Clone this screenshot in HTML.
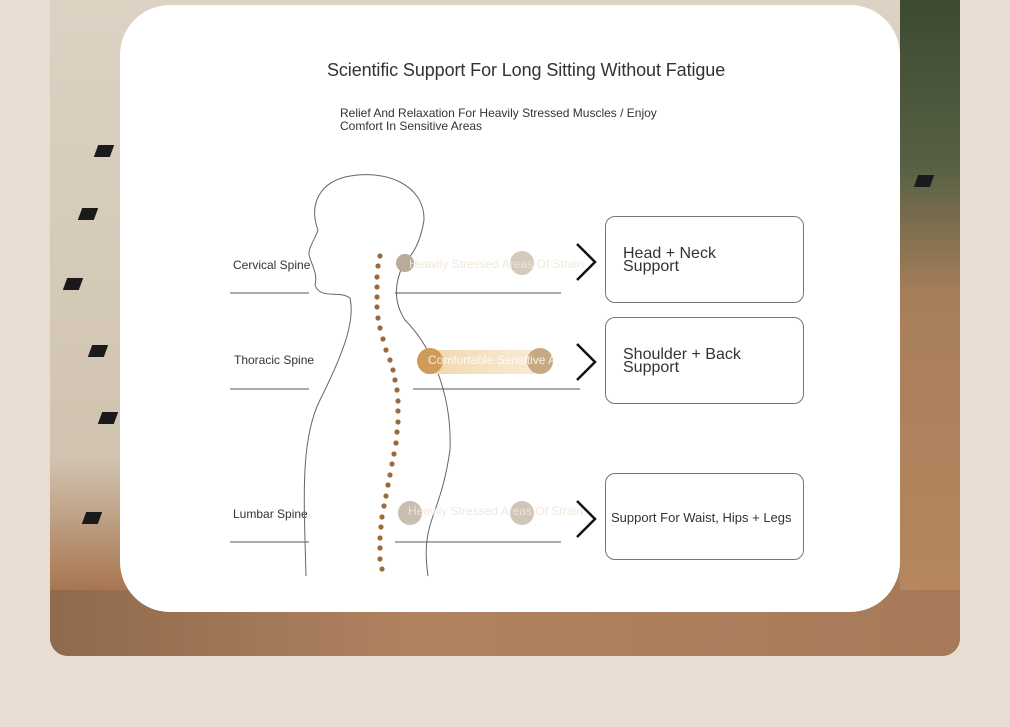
<!DOCTYPE html>
<html><head><style>
body{margin:0;width:1010px;height:727px;background:#e9ddd3;position:relative;overflow:hidden;font-family:"Liberation Sans",sans-serif}
#photo{position:absolute;left:50px;top:0;width:910px;height:656px;border-radius:0 0 18px 18px;overflow:hidden;
background:linear-gradient(180deg,#ddd2c3 0%,#d0c3b0 70%,#a8764f 90%,#9a6a45 100%)}
#right{position:absolute;left:850px;top:0;width:60px;height:656px;background:linear-gradient(180deg,#3c4a32 0%,#566044 25%,#a87e5a 45%,#b88860 100%)}
#bottom{position:absolute;left:0;top:590px;width:910px;height:66px;background:linear-gradient(90deg,#8f6a4c,#b08260 40%,#a67a58)}
.sq{position:absolute;width:16px;height:12px;background:#1a1a1a;transform:skewX(-20deg)}
#card{position:absolute;left:120px;top:5px;width:780px;height:607px;background:#fff;border-radius:50px}
.t{position:absolute;color:#333;white-space:nowrap}
.w{position:absolute;color:rgba(255,255,255,0.85);font-size:12px;white-space:nowrap}
.box{position:absolute;left:605px;width:199px;height:87px;border:1.5px solid #777;border-radius:10px;box-sizing:border-box;color:#333}
</style></head><body>
<div id="photo">
<div id="right"></div><div id="bottom"></div>
<div class="sq" style="left:46px;top:145px"></div>
<div class="sq" style="left:30px;top:208px"></div>
<div class="sq" style="left:15px;top:278px"></div>
<div class="sq" style="left:40px;top:345px"></div>
<div class="sq" style="left:50px;top:412px"></div>
<div class="sq" style="left:34px;top:512px"></div>
<div class="sq" style="left:866px;top:175px"></div>
</div>
<div id="card"></div>
<div class="t" style="left:327px;top:60px;font-size:18px;font-weight:500;letter-spacing:-0.1px">Scientific Support For Long Sitting Without Fatigue</div>
<div class="t" style="left:340px;top:107px;font-size:12px;line-height:13px">Relief And Relaxation For Heavily Stressed Muscles / Enjoy<br>Comfort In Sensitive Areas</div>
<div class="t" style="left:233px;top:258px;font-size:12px">Cervical Spine</div>
<div class="t" style="left:234px;top:353px;font-size:12px">Thoracic Spine</div>
<div class="t" style="left:233px;top:507px;font-size:12px">Lumbar Spine</div>
<svg style="position:absolute;left:0;top:0" width="1010" height="727">
<defs><linearGradient id="g" x1="0" x2="1"><stop offset="0" stop-color="#f0d7aa"/><stop offset="1" stop-color="#f8ecd8"/></linearGradient></defs>
<g stroke="#555" stroke-width="1" fill="none">
<line x1="230" y1="293" x2="309" y2="293"/><line x1="395" y1="293" x2="561" y2="293"/>
<line x1="230" y1="389" x2="309" y2="389"/><line x1="413" y1="389" x2="580" y2="389"/>
<line x1="230" y1="542" x2="309" y2="542"/><line x1="395" y1="542" x2="561" y2="542"/>
</g>
<path stroke="#666" stroke-width="1" fill="none" d="M306,576 C304,500 300,440 320,400 C345,350 355,320 350,298 C340,290 320,300 315,285 C318,275 312,265 310,258 C306,250 315,240 318,230 C310,210 315,185 345,177 C385,168 425,185 424,220 C420,245 412,255 403,265 C396,280 392,300 405,320 C435,350 452,400 450,450 C440,520 420,520 428,576"/>
<g stroke="#111" stroke-width="2.5" fill="none">
<path d="M577,244 L595,262 L577,280"/><path d="M577,344 L595,362 L577,380"/><path d="M577,501 L595,519 L577,537"/>
</g>
<circle cx="405" cy="263" r="9" fill="#b8ab98"/><circle cx="522" cy="263" r="12" fill="#d5cbbd"/>
<rect x="425" y="350" width="115" height="24" fill="url(#g)"/>
<circle cx="430" cy="361" r="13" fill="#d09a5a"/><circle cx="540" cy="361" r="13" fill="#c8a880"/>
<circle cx="410" cy="513" r="12" fill="#c9bfb0"/><circle cx="522" cy="513" r="12" fill="#d0c6b8"/>
<g fill="#9b6a3c">
<circle cx="380" cy="256" r="2.6"/><circle cx="378" cy="266" r="2.6"/><circle cx="377" cy="277" r="2.6"/><circle cx="377" cy="287" r="2.6"/><circle cx="377" cy="297" r="2.6"/><circle cx="377" cy="307" r="2.6"/><circle cx="378" cy="318" r="2.6"/><circle cx="380" cy="328" r="2.6"/><circle cx="383" cy="339" r="2.6"/><circle cx="386" cy="350" r="2.6"/><circle cx="390" cy="360" r="2.6"/><circle cx="393" cy="370" r="2.6"/><circle cx="395" cy="380" r="2.6"/><circle cx="397" cy="390" r="2.6"/><circle cx="398" cy="401" r="2.6"/><circle cx="398" cy="411" r="2.6"/><circle cx="398" cy="422" r="2.6"/><circle cx="397" cy="432" r="2.6"/><circle cx="396" cy="443" r="2.6"/><circle cx="394" cy="454" r="2.6"/><circle cx="392" cy="464" r="2.6"/><circle cx="390" cy="475" r="2.6"/><circle cx="388" cy="485" r="2.6"/><circle cx="386" cy="496" r="2.6"/><circle cx="384" cy="506" r="2.6"/><circle cx="382" cy="517" r="2.6"/><circle cx="381" cy="527" r="2.6"/><circle cx="380" cy="538" r="2.6"/><circle cx="380" cy="548" r="2.6"/><circle cx="380" cy="559" r="2.6"/><circle cx="382" cy="569" r="2.6"/>
</g>
</svg>
<div class="w" style="left:409px;top:257px;color:rgba(240,230,215,0.9)">Heavily Stressed Areas Of Strain</div>
<div class="w" style="left:428px;top:353px">Comfortable Sensitive Areas</div>
<div class="w" style="left:408px;top:504px;color:rgba(240,230,215,0.9)">Heavily Stressed Areas Of Strain</div>
<div class="box" style="top:216px"><div style="position:absolute;left:17px;top:30px;font-size:16px;line-height:13px">Head + Neck<br>Support</div></div>
<div class="box" style="top:317px"><div style="position:absolute;left:17px;top:30px;font-size:16px;line-height:13px">Shoulder + Back<br>Support</div></div>
<div class="box" style="top:473px"><div style="position:absolute;left:5px;top:36px;font-size:13px">Support For Waist, Hips + Legs</div></div>
</body></html>
